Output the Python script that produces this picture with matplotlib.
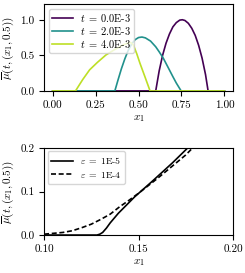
import matplotlib
matplotlib.use("Agg")
import matplotlib.pyplot as plt

plt.rcParams['font.family'] = 'serif'
plt.rcParams['font.serif'] = ['cmr10', 'DejaVu Serif']
plt.rcParams['mathtext.fontset'] = 'cm'
plt.rcParams['axes.formatter.use_mathtext'] = True
plt.rcParams['font.size'] = 8

# ---- top panel data ----
t_labels = [r'$t\;=\;$0.0E-3', r'$t\;=\;$2.0E-3', r'$t\;=\;$4.0E-3']
t_colors = ['#440154', '#21918c', '#bddf26']

x_t0 = [0.0, 0.60, 0.62, 0.64, 0.66, 0.68, 0.70, 0.72, 0.74, 0.755, 0.77, 0.79, 0.81, 0.83, 0.85, 0.87, 0.89, 0.905, 1.0]
y_t0 = [0.0, 0.0, 0.28, 0.50, 0.67, 0.80, 0.90, 0.96, 0.995, 1.0, 0.99, 0.95, 0.88, 0.78, 0.64, 0.46, 0.23, 0.0, 0.0]

x_t2 = [0.0, 0.362, 0.38, 0.40, 0.42, 0.44, 0.46, 0.48, 0.50, 0.52, 0.54, 0.57, 0.60, 0.62, 0.644, 0.67, 0.70, 0.72, 0.748, 1.0]
y_t2 = [0.0, 0.0, 0.15, 0.31, 0.45, 0.57, 0.66, 0.72, 0.75, 0.757, 0.745, 0.70, 0.62, 0.55, 0.46, 0.34, 0.20, 0.11, 0.0, 0.0]

x_t4 = [0.0, 0.133, 0.15, 0.175, 0.215, 0.26, 0.31, 0.36, 0.41, 0.44, 0.455, 0.47, 0.49, 0.508, 0.537, 0.567, 1.0]
y_t4 = [0.0, 0.0, 0.065, 0.16, 0.296, 0.40, 0.505, 0.58, 0.645, 0.672, 0.68, 0.645, 0.52, 0.39, 0.20, 0.0, 0.0]

top_xticks = [0.0, 0.25, 0.5, 0.75, 1.0]
top_yticks = [0.0, 0.5, 1.0]

# ---- bottom panel data ----
eps_labels = [r'$\varepsilon\;=\;$1E-5', r'$\varepsilon\;=\;$1E-4']
x_e5 = [0.10, 0.128, 0.1295, 0.131, 0.133, 0.135, 0.1393, 0.148, 0.157, 0.168, 0.176, 0.19, 0.20]
y_e5 = [0.0, 0.0, 0.002, 0.006, 0.016, 0.028, 0.050, 0.088, 0.1225, 0.166, 0.20, 0.257, 0.298]

x_e4 = [0.10, 0.105, 0.11, 0.115, 0.12, 0.125, 0.13, 0.135, 0.14, 0.145, 0.15, 0.155, 0.16, 0.165, 0.17, 0.175, 0.1786, 0.19, 0.20]
y_e4 = [0.002, 0.004, 0.006, 0.010, 0.017, 0.025, 0.036, 0.048, 0.065, 0.080, 0.096, 0.113, 0.130, 0.148, 0.166, 0.184, 0.20, 0.24, 0.275]

bot_xticks = [0.10, 0.15, 0.20]
bot_yticks = [0.0, 0.1, 0.2]

fig = plt.figure(figsize=(2.45, 2.73), dpi=100)
ax1 = fig.add_axes([0.18, 0.667, 0.771, 0.318])
ax2 = fig.add_axes([0.18, 0.139, 0.771, 0.319])

for xs, ys, c, lab in zip([x_t0, x_t2, x_t4], [y_t0, y_t2, y_t4], t_colors, t_labels):
    ax1.plot(xs, ys, color=c, lw=1.2, label=lab)
ax1.set_xlim(-0.05, 1.05)
ax1.set_ylim(0, 1.22)
ax1.set_xticks(top_xticks)
ax1.set_xticklabels(['0.00', '0.25', '0.50', '0.75', '1.00'])
ax1.set_yticks(top_yticks)
ax1.set_yticklabels(['0.0', '0.5', '1.0'])
ax1.set_xlabel(r'$x_1$', labelpad=2)
ax1.set_ylabel(r'$\overline{\mu}(t,(x_1,0.5))$', labelpad=3)
ax1.legend(loc='upper left', fontsize=7.5, labelspacing=0.1, borderpad=0.3,
           handlelength=2.0, handletextpad=0.65, borderaxespad=0.45)

ax2.plot(x_e5, y_e5, color='black', lw=1.2, ls='-', label=eps_labels[0])
ax2.plot(x_e4, y_e4, color='black', lw=1.2, ls=(0, (3, 1.6)), label=eps_labels[1])
ax2.set_xlim(0.10, 0.20)
ax2.set_ylim(0.0, 0.2)
ax2.set_xticks(bot_xticks)
ax2.set_xticklabels(['0.10', '0.15', '0.20'])
ax2.set_yticks(bot_yticks)
ax2.set_yticklabels(['0.0', '0.1', '0.2'])
ax2.set_xlabel(r'$x_1$', labelpad=2)
ax2.set_ylabel(r'$\overline{\mu}(t,(x_1,0.5))$', labelpad=3)
ax2.legend(loc='upper left', fontsize=7, labelspacing=0.35, borderpad=0.4,
           handlelength=2.2, handletextpad=0.7, borderaxespad=0.35)

fig.savefig('out.png', dpi=100)
